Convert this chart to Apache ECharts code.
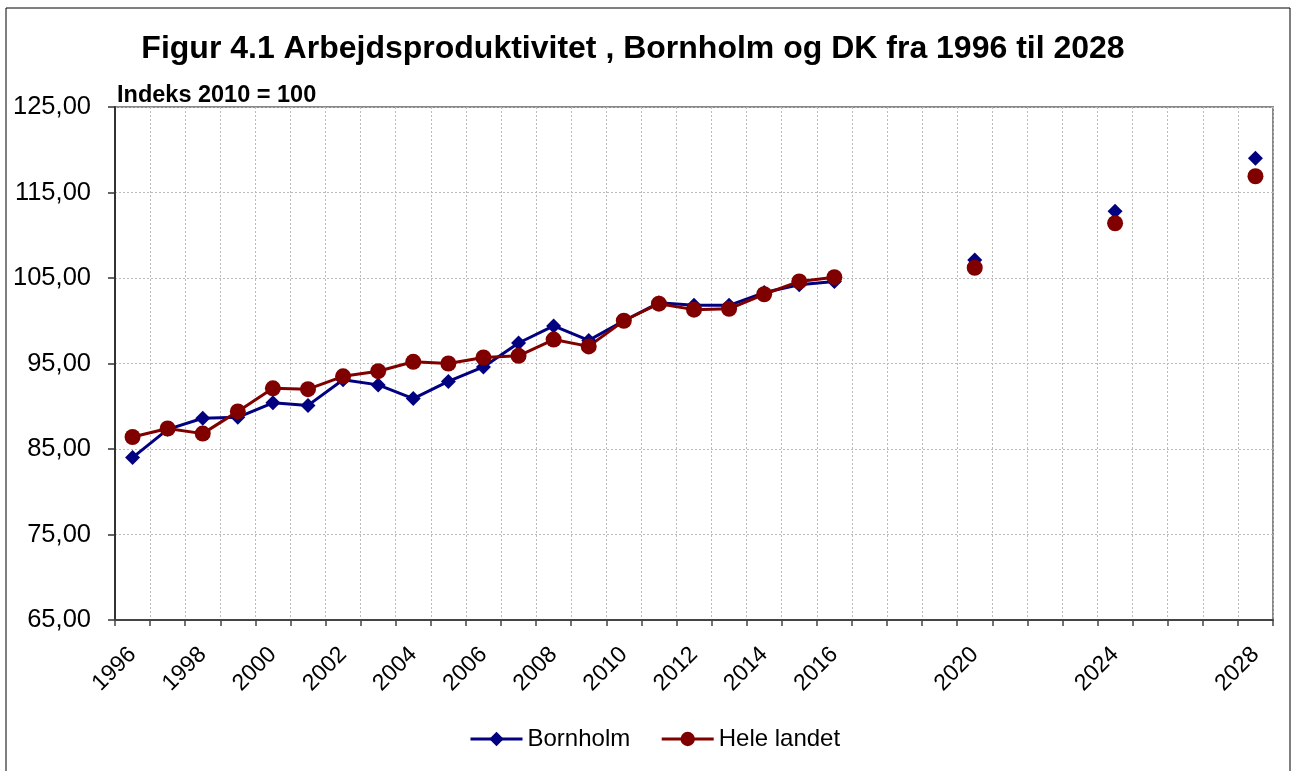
<!DOCTYPE html>
<html>
<head>
<meta charset="utf-8">
<script src="https://cdn.jsdelivr.net/npm/echarts@6/dist/echarts.min.js"></script>
<style>
  html, body { margin: 0; padding: 0; background: #fff; }
  #chart { width: 1293px; height: 771px; }
</style>
</head>
<body>
<div id="chart"></div>
<script>
// years on the category axis, 1996..2028
const years = ['1996','1997','1998','1999','2000','2001','2002','2003','2004','2005','2006',
  '2007','2008','2009','2010','2011','2012','2013','2014','2015','2016',
  '2017','2018','2019','2020','2021','2022','2023','2024','2025','2026','2027','2028']

// labels that are actually printed under the axis
const shownLabels = ['1996','1998','2000','2002','2004','2006','2008','2010','2012','2014','2016','2020','2024','2028']

// Indeks 2010 = 100 (null where no value)
const bornholm = [84.0, 87.3, 88.6, 88.7, 90.4, 90.1, 93.1, 92.5, 90.9, 92.9, 94.6,
  97.4, 99.4, 97.7, 100.0, 102.1, 101.8, 101.8, 103.3, 104.2, 104.6,
  null, null, null, 107.1, null, null, null, 112.8, null, null, null, 119.0]

const heleLandet = [86.4, 87.4, 86.8, 89.4, 92.1, 92.0, 93.5, 94.1, 95.2, 95.0, 95.7,
  95.9, 97.8, 97.0, 100.0, 102.0, 101.3, 101.4, 103.1, 104.6, 105.1,
  null, null, null, 106.2, null, null, null, 111.4, null, null, null, 116.9]

const FONT = '"Liberation Sans", Arial, sans-serif'

const chart = echarts.init(document.getElementById('chart'))

chart.setOption({
  animation: false,
  textStyle: { fontFamily: FONT },
  title: [
    {
      text: 'Figur 4.1 Arbejdsproduktivitet , Bornholm og DK fra 1996 til 2028',
      left: 628, top: 28, textAlign: 'center',
      textStyle: { fontSize: 32, fontWeight: 'bold', color: '#000', fontFamily: FONT }
    },
    {
      text: 'Indeks 2010 = 100',
      left: 112, top: 79,
      textStyle: { fontSize: 23.5, fontWeight: 'bold', color: '#000', fontFamily: FONT }
    }
  ],
  graphic: [
    {
      type: 'rect',
      shape: { x: 6, y: 8, width: 1284, height: 800 },
      style: { fill: 'none', stroke: '#000', lineWidth: 1 },
      silent: true
    }
  ],
  legend: {
    bottom: 15,
    left: 464,
    itemGap: 30,
    itemWidth: 52,
    itemHeight: 18,
    lineStyle: { width: 3 },
    textStyle: { fontSize: 24, color: '#000', fontFamily: FONT },
    data: ['Bornholm', 'Hele landet']
  },
  grid: { left: 115, right: 20, top: 107, bottom: 151, show: true, borderColor: '#888', borderWidth: 2 },
  xAxis: {
    type: 'category',
    data: years,
    boundaryGap: true,
    axisLine: { lineStyle: { color: '#444', width: 2 } },
    axisTick: { show: true, interval: 0, length: 6, lineStyle: { color: '#444', width: 1.5 } },
    splitLine: { show: true, interval: 0, lineStyle: { color: '#bbb', type: [2, 2], width: 1 } },
    axisLabel: {
      interval: (i, v) => shownLabels.includes(v),
      rotate: 45,
      margin: 31,
      fontSize: 23,
      color: '#000',
      fontFamily: FONT
    }
  },
  yAxis: {
    type: 'value',
    min: 65, max: 125, interval: 10,
    axisLine: { show: true, lineStyle: { color: '#333', width: 2 } },
    axisTick: { show: true, length: 7, lineStyle: { color: '#333', width: 1.5 } },
    splitLine: { lineStyle: { color: '#bbb', type: [2, 2], width: 1 } },
    axisLabel: {
      formatter: v => v.toFixed(2).replace('.', ','),
      fontSize: 25.5,
      color: '#000',
      margin: 24,
      fontFamily: FONT
    }
  },
  series: [
    {
      name: 'Bornholm',
      type: 'line',
      data: bornholm,
      symbol: 'diamond',
      symbolSize: 15,
      showAllSymbol: true,
      connectNulls: false,
      color: '#000080',
      lineStyle: { width: 3, color: '#000080' },
      itemStyle: { color: '#000080' }
    },
    {
      name: 'Hele landet',
      type: 'line',
      data: heleLandet,
      symbol: 'circle',
      symbolSize: 16,
      showAllSymbol: true,
      connectNulls: false,
      color: '#800000',
      lineStyle: { width: 3, color: '#800000' },
      itemStyle: { color: '#800000' }
    }
  ]
})
</script>
</body>
</html>
